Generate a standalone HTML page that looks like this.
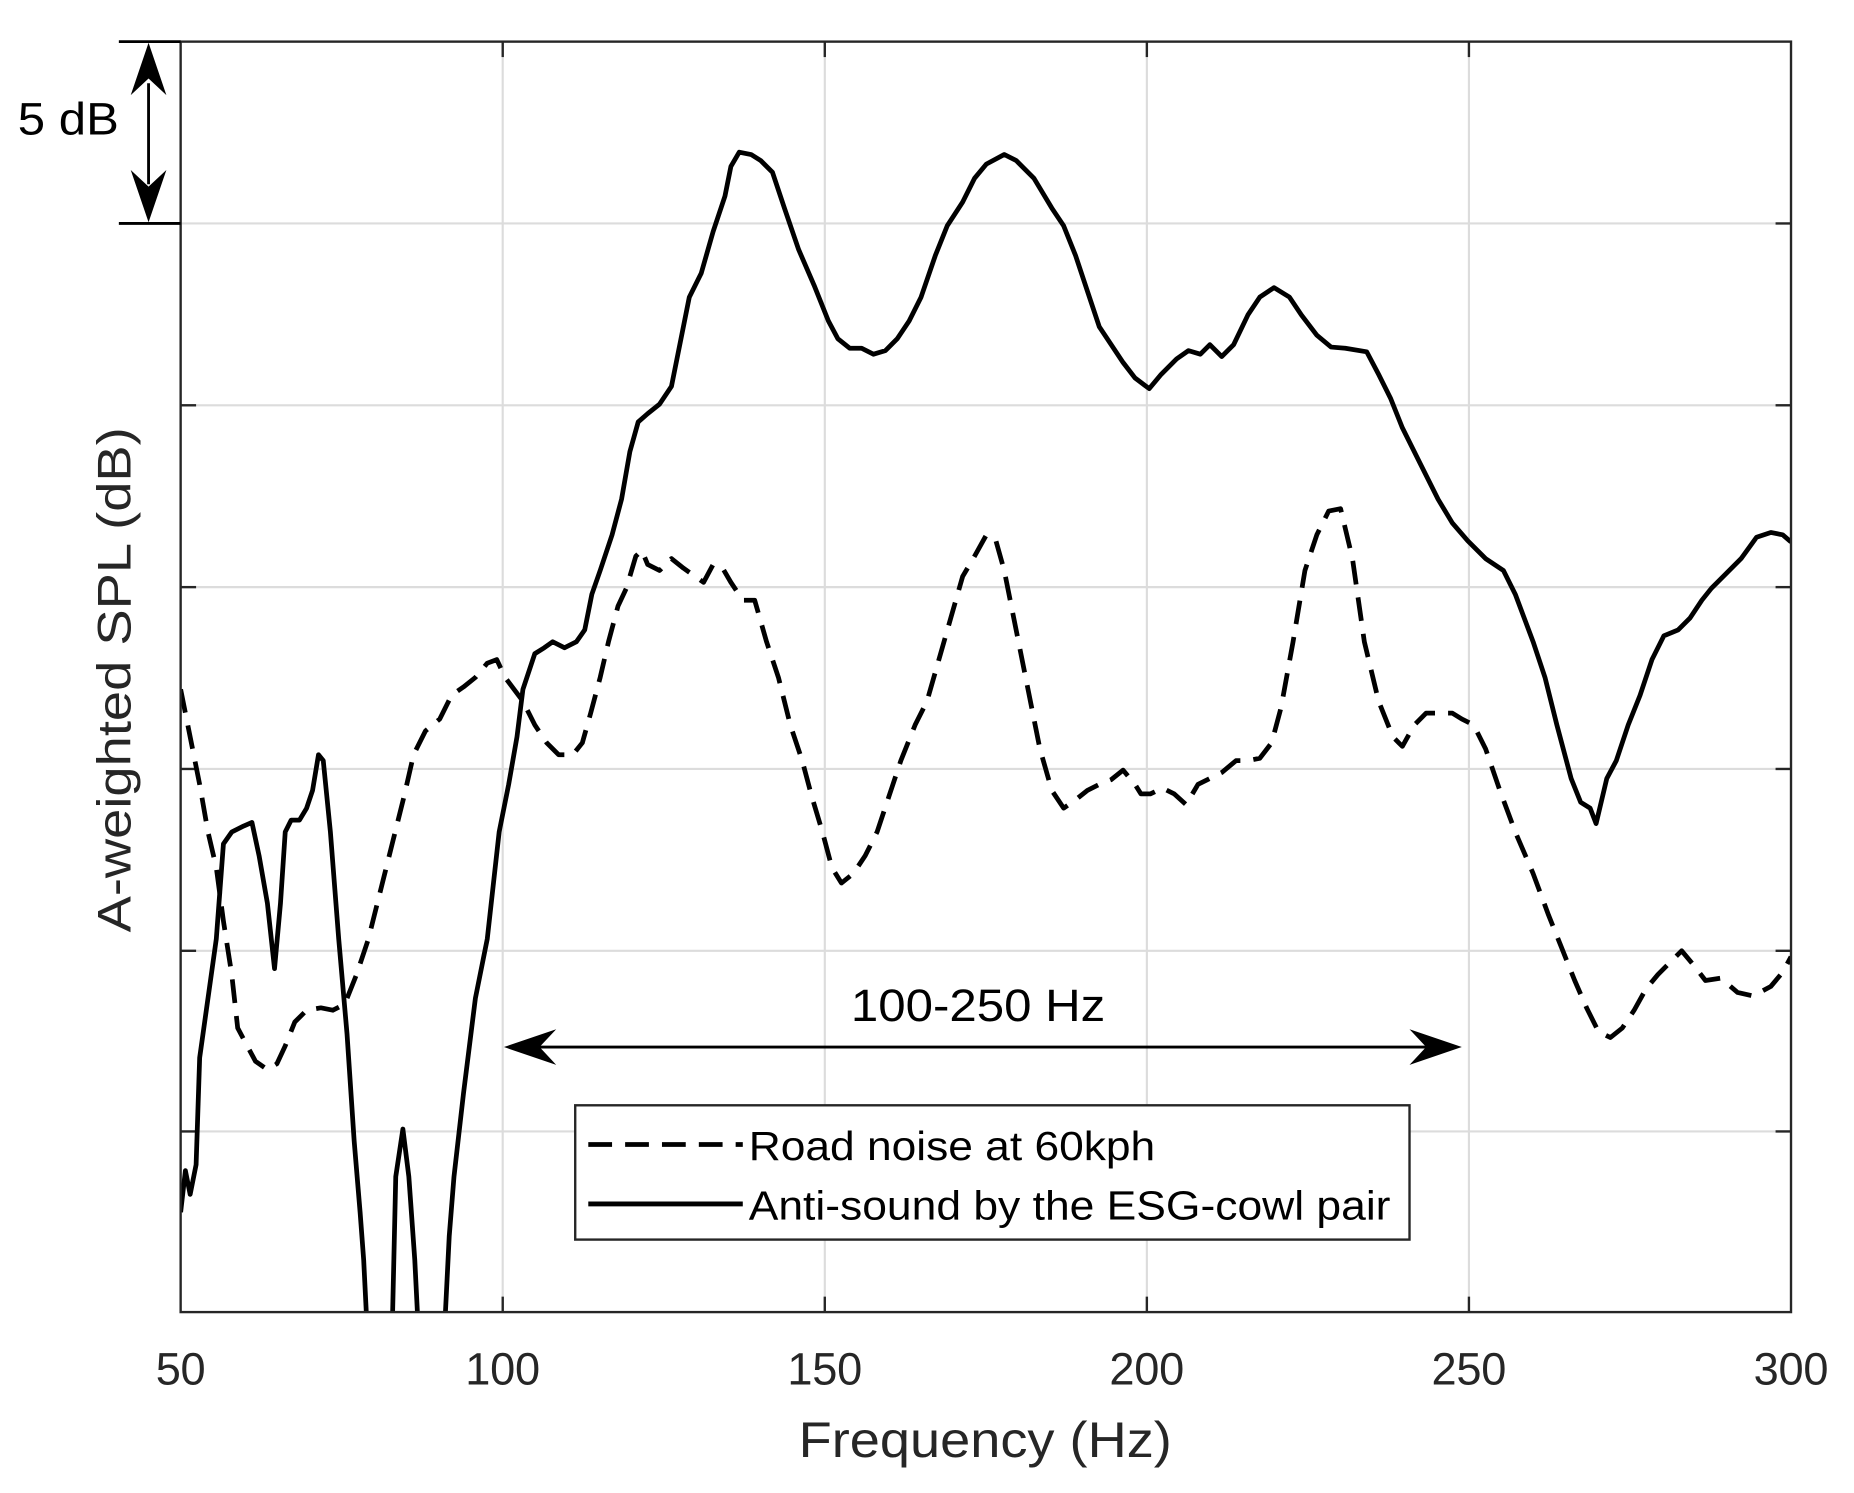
<!DOCTYPE html>
<html><head><meta charset="utf-8"><style>html,body{margin:0;padding:0;background:#fff}svg{display:block}</style></head>
<body>
<svg width="1854" height="1493" viewBox="0 0 1560 1256.2" xmlns="http://www.w3.org/2000/svg" font-family="Liberation Sans, Arial, sans-serif">
<rect width="1560" height="1257" fill="#fff"/>
<g stroke="#dcdcdc" stroke-width="1.8">
<line x1="423" y1="35" x2="423" y2="1104"/><line x1="694" y1="35" x2="694" y2="1104"/><line x1="965" y1="35" x2="965" y2="1104"/><line x1="1236" y1="35" x2="1236" y2="1104"/>
<line x1="152" y1="188" x2="1507" y2="188"/><line x1="152" y1="341" x2="1507" y2="341"/><line x1="152" y1="494" x2="1507" y2="494"/><line x1="152" y1="647" x2="1507" y2="647"/><line x1="152" y1="800" x2="1507" y2="800"/><line x1="152" y1="952" x2="1507" y2="952"/>
</g>
<g stroke="#262626" stroke-width="2">
<line x1="423" y1="1104" x2="423" y2="1091"/><line x1="694" y1="1104" x2="694" y2="1091"/><line x1="965" y1="1104" x2="965" y2="1091"/><line x1="1236" y1="1104" x2="1236" y2="1091"/>
<line x1="423" y1="35" x2="423" y2="48"/><line x1="694" y1="35" x2="694" y2="48"/><line x1="965" y1="35" x2="965" y2="48"/><line x1="1236" y1="35" x2="1236" y2="48"/>
<line x1="152" y1="341" x2="165" y2="341"/><line x1="152" y1="494" x2="165" y2="494"/><line x1="152" y1="647" x2="165" y2="647"/><line x1="152" y1="800" x2="165" y2="800"/><line x1="152" y1="952" x2="165" y2="952"/>
<line x1="1507" y1="188" x2="1494" y2="188"/><line x1="1507" y1="341" x2="1494" y2="341"/><line x1="1507" y1="494" x2="1494" y2="494"/><line x1="1507" y1="647" x2="1494" y2="647"/><line x1="1507" y1="800" x2="1494" y2="800"/><line x1="1507" y1="952" x2="1494" y2="952"/>
</g>
<defs><clipPath id="c"><rect x="152" y="35" width="1355" height="1069"/></clipPath></defs>
<g clip-path="url(#c)" fill="none" stroke="#000" stroke-width="4" stroke-linejoin="round">
<polyline points="152,1020 156,985 160,1005 165,980 168,890 175,840 182,790 188,710 195,700 205,695 212,692 218,720 225,760 231,815 236,760 240,700 245,690 252,690 258,680 263,665 268,635 272,640 278,700 285,790 292,870 298,960 303,1020 306,1060 309,1120 330,1120 333,990 339,950 344,990 349,1060 352,1120 374,1120 378,1040 382,990 390,920 400,840 410,790 420,700 428,660 435,620 440,580 450,550 458,545 465,540 475,545 485,540 492,530 498,500 505,480 515,450 523,420 530,380 537,355 545,348 555,340 565,325 572,290 580,250 590,230 600,195 610,165 615,140 622,128 632,130 640,135 650,145 660,175 672,210 685,240 697,270 705,285 715,293 725,293 735,298 745,295 755,285 765,270 775,250 787,215 797,190 810,170 820,150 830,138 845,130 855,135 870,150 885,175 895,190 905,215 915,245 925,275 935,290 945,305 955,318 967,327 977,315 990,302 1000,295 1010,298 1018,290 1028,300 1038,290 1050,265 1060,250 1072,242 1085,250 1095,265 1108,282 1120,292 1132,293 1150,296 1160,315 1170,335 1180,360 1195,390 1210,420 1222,440 1235,455 1250,470 1265,480 1275,500 1290,540 1300,570 1310,610 1322,655 1330,675 1338,680 1343,693 1352,655 1360,640 1370,610 1380,585 1390,555 1400,535 1412,530 1422,520 1432,505 1440,495 1450,485 1465,470 1478,452 1490,448 1500,450 1507,456"/>
<polyline stroke-dasharray="20,11" points="152,580 160,620 168,660 175,700 182,730 188,775 195,820 200,865 208,880 215,893 225,900 233,895 240,880 248,860 258,850 270,848 280,850 290,845 300,820 310,790 320,750 330,710 340,670 348,635 358,615 370,605 380,585 390,578 400,570 410,558 418,555 425,570 440,590 450,610 460,625 470,635 482,635 490,625 497,600 505,570 512,540 520,510 527,495 535,468 540,463 545,475 555,480 565,470 575,478 585,485 592,490 600,475 608,478 615,490 625,505 635,505 645,540 655,570 665,610 675,640 683,670 692,700 700,730 708,743 718,735 728,720 738,700 748,670 758,640 770,610 780,590 790,555 800,520 810,485 820,468 830,450 838,455 845,480 855,530 865,580 875,630 885,665 895,680 905,673 915,665 925,660 935,656 945,648 955,660 960,668 968,668 978,663 988,668 998,677 1008,660 1018,655 1028,650 1040,640 1050,640 1060,638 1070,625 1078,595 1088,540 1098,480 1108,450 1118,430 1128,428 1138,470 1148,540 1160,590 1172,620 1180,628 1190,610 1200,600 1210,600 1222,600 1230,605 1240,610 1250,630 1262,665 1275,700 1290,735 1303,770 1315,800 1325,825 1335,848 1345,868 1355,873 1365,865 1375,850 1385,832 1395,820 1405,810 1415,800 1425,812 1435,825 1448,823 1462,835 1475,838 1490,830 1500,818 1507,805"/>
</g>
<rect x="152" y="35" width="1355" height="1069" fill="none" stroke="#262626" stroke-width="2"/>
<g stroke="#000" stroke-width="2.4"><line x1="100" y1="35" x2="152" y2="35"/><line x1="100" y1="188" x2="152" y2="188"/><line x1="125" y1="70" x2="125" y2="155"/></g>
<polygon points="125,36 110,80 125,66 140,80" fill="#000"/>
<polygon points="125,187 110,143 125,157 140,143" fill="#000"/>
<text x="15" y="113" font-size="38" fill="#000" textLength="85" lengthAdjust="spacingAndGlyphs">5 dB</text>
<line x1="440" y1="881" x2="1212" y2="881" stroke="#000" stroke-width="2.4"/>
<polygon points="424,881 468,866 454,881 468,896" fill="#000"/>
<polygon points="1230,881 1186,866 1200,881 1186,896" fill="#000"/>
<text x="716" y="859" font-size="38" fill="#000" textLength="214" lengthAdjust="spacingAndGlyphs">100-250 Hz</text>
<rect x="484" y="930" width="702" height="113" fill="#fff" stroke="#262626" stroke-width="2"/>
<line x1="495" y1="963" x2="625" y2="963" stroke="#000" stroke-width="4" stroke-dasharray="20,11"/>
<line x1="495" y1="1013" x2="625" y2="1013" stroke="#000" stroke-width="4"/>
<text x="630" y="976" font-size="34" fill="#000" textLength="342" lengthAdjust="spacingAndGlyphs">Road noise at 60kph</text>
<text x="630" y="1026" font-size="34" fill="#000" textLength="540" lengthAdjust="spacingAndGlyphs">Anti-sound by the ESG-cowl pair</text>
<g font-size="38" fill="#262626" text-anchor="middle" lengthAdjust="spacingAndGlyphs">
<text x="152" y="1165" textLength="42">50</text><text x="423" y="1165" textLength="63">100</text><text x="694" y="1165" textLength="63">150</text><text x="965" y="1165" textLength="63">200</text><text x="1236" y="1165" textLength="63">250</text><text x="1507" y="1165" textLength="63">300</text>
</g>
<text x="829" y="1226" font-size="42" fill="#262626" text-anchor="middle" textLength="314" lengthAdjust="spacingAndGlyphs">Frequency (Hz)</text>
<text transform="translate(110,572) rotate(-90)" font-size="40" fill="#262626" text-anchor="middle" textLength="425" lengthAdjust="spacingAndGlyphs">A-weighted SPL (dB)</text>
</svg>
</body></html>
